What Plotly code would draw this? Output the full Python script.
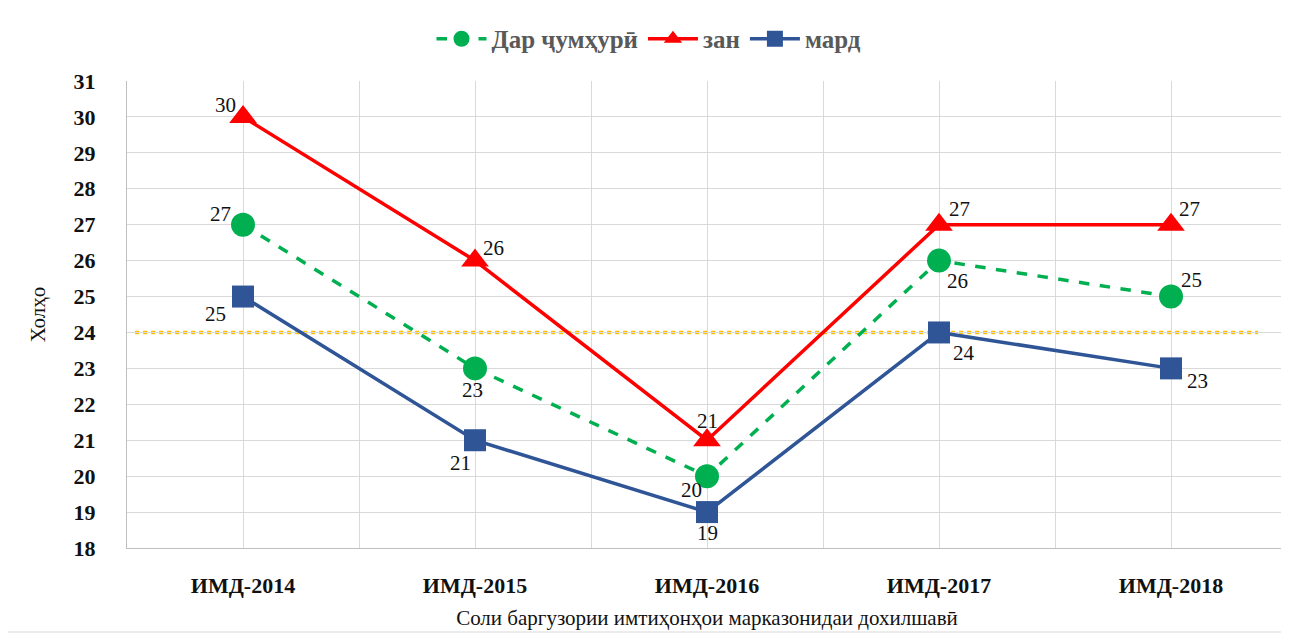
import plotly.graph_objects as go

categories = ["ИМД-2014", "ИМД-2015", "ИМД-2016", "ИМД-2017", "ИМД-2018"]
republic = [27, 23, 20, 26, 25]
women = [30, 26, 21, 27, 27]
men = [25, 21, 19, 24, 23]
threshold = 24

series_names = ["Дар ҷумҳурӣ", "зан", "мард"]
y_title = "Холҳо"
x_title = "Соли баргузории имтиҳонҳои марказонидаи дохилшавӣ"

xs = list(range(len(categories)))
serif = "Liberation Serif"

fig = go.Figure()

# threshold line
fig.add_shape(type="line", xref="paper", x0=0.007, x1=0.975, yref="y", y0=threshold, y1=threshold,
              line=dict(color="#FFC000", width=3.5, dash="4px,4px"), layer="below")

fig.add_trace(go.Scatter(
    x=xs, y=republic, name=series_names[0], mode="lines+markers",
    line=dict(color="#00B050", width=3.5, dash="dash"),
    marker=dict(symbol="circle", size=24, color="#00B050"),
))
fig.add_trace(go.Scatter(
    x=xs, y=women, name=series_names[1], mode="lines+markers",
    line=dict(color="#FF0000", width=3.5),
    marker=dict(symbol="triangle-up", size=24, color="#FF0000"),
))
fig.add_trace(go.Scatter(
    x=xs, y=men, name=series_names[2], mode="lines+markers",
    line=dict(color="#2F5597", width=3.5),
    marker=dict(symbol="square", size=22, color="#2F5597"),
))

# data label offsets in pixels (dx, dy-down)
offsets = {
    "rep": [(-23, -11), (-3, 22), (-16, 14), (18, 20), (20, -17)],
    "wom": [(-18, -12), (18, -13), (0, -19), (20, -16), (18, -16)],
    "men": [(-28, 17), (-15, 23), (0, 21), (25, 21), (26, 13)],
}
for key, vals in (("rep", republic), ("wom", women), ("men", men)):
    for i, v in enumerate(vals):
        dx, dy = offsets[key][i]
        fig.add_annotation(x=xs[i], y=v, text=str(v), showarrow=False, xshift=dx, yshift=-dy,
                           font=dict(family=serif, size=21, color="#111111"))

tickvals = []
ticktext = []
for i, c in enumerate(categories):
    tickvals += [i - 0.5, i]
    ticktext += ["", c]
tickvals.append(len(categories) - 0.5)
ticktext.append("")

fig.update_layout(
    width=1289, height=637,
    margin=dict(l=119, r=10, t=73, b=97, autoexpand=False),
    paper_bgcolor="white", plot_bgcolor="white",
    font=dict(family=serif, color="#000000"),
    showlegend=True,
    legend=dict(orientation="h", x=0.45, xanchor="center", y=1.09, yanchor="middle",
                font=dict(family=serif, size=25, color="#595959", weight="bold"),
                itemwidth=50, tracegroupgap=0),
    xaxis=dict(range=[-0.5, len(categories) - 0.5], tickmode="array", tickvals=tickvals, ticktext=ticktext,
               showgrid=True, gridcolor="#D9D9D9", gridwidth=1, zeroline=False,
               showline=True, linecolor="#BFBFBF", linewidth=1,
               tickfont=dict(family=serif, size=22, color="#111111", weight="bold"),
               ticks="", ticklabelstandoff=18,
               title=dict(text=x_title, font=dict(family=serif, size=21, color="#111111"), standoff=12)),
    yaxis=dict(range=[18, 31], dtick=1, showgrid=True, gridcolor="#D9D9D9", gridwidth=1, zeroline=False,
               showline=True, linecolor="#BFBFBF", linewidth=1, ticks="",
               tickfont=dict(family=serif, size=22, color="#111111", weight="bold"),
               ticklabelstandoff=26,
               title=dict(text=y_title, font=dict(family=serif, size=21, color="#111111"), standoff=22)),
)

# outer border of chart
fig.add_shape(type="rect", xref="paper", yref="paper",
              x0=-120 / 1160, x1=1.0, y0=-84 / 467, y1=1 + 77 / 467,
              line=dict(color="#D9D9D9", width=1), fillcolor="rgba(0,0,0,0)")

fig.write_html("out.html")
